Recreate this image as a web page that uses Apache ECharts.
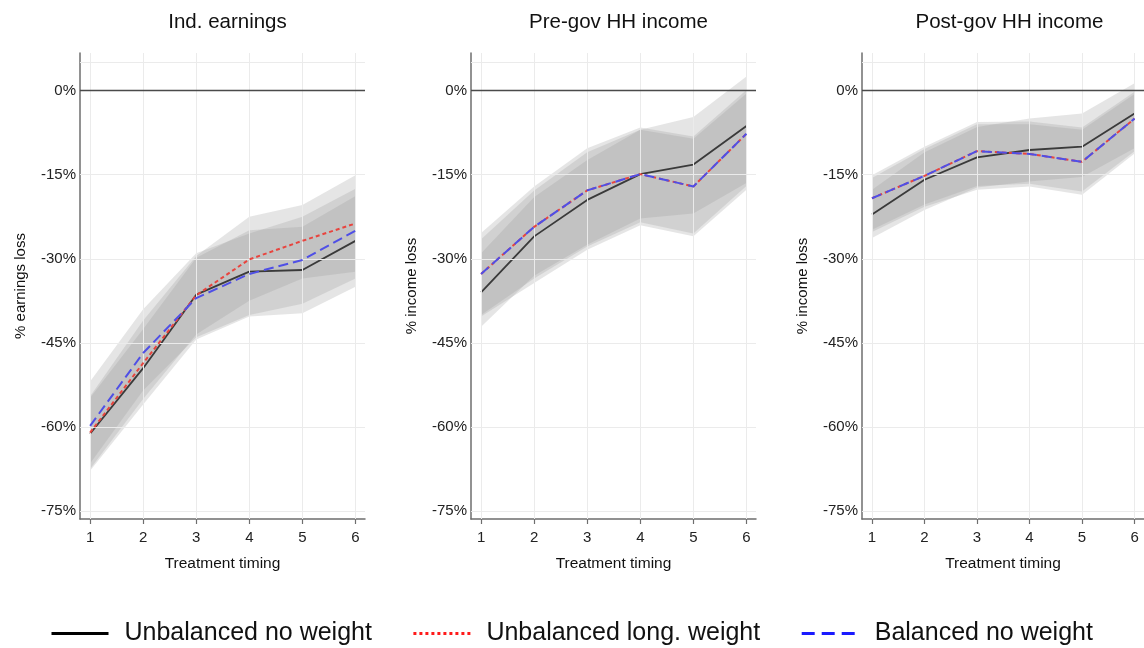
<!DOCTYPE html>
<html>
<head>
<meta charset="utf-8">
<script src="https://cdn.jsdelivr.net/npm/echarts@6/dist/echarts.min.js"></script>
<style>
  html, body { margin: 0; padding: 0; background: #fff; }
  #chart { width: 1144px; height: 648px; }
</style>
</head>
<body>
<div id="chart"></div>
<script>
// Treatment timing (x axis) and axis tick labels
const timing = [1, 2, 3, 4, 5, 6];
const yTicks = [0, -15, -30, -45, -60, -75];
const yGridExtra = [5];

const panelTitles = ['Ind. earnings', 'Pre-gov HH income', 'Post-gov HH income'];
const panelYNames = ['% earnings loss', '% income loss', '% income loss'];
const seriesNames = ['Unbalanced no weight', 'Unbalanced long. weight', 'Balanced no weight'];

// Ind. earnings: point estimates and confidence bands (% change)
const earnUnbal = [-61.2, -49.5, -36.4, -32.3, -32.0, -26.8];
const earnUnbalLo = [-67.8, -56.0, -44.4, -40.3, -39.7, -35.0];
const earnUnbalHi = [-54.8, -42.5, -29.8, -24.9, -24.3, -18.8];
const earnLong = [-61.0, -48.6, -36.5, -30.1, -26.8, -23.7];
const earnLongLo = [-67.5, -55.0, -43.5, -37.5, -33.5, -32.3];
const earnLongHi = [-54.5, -41.0, -29.5, -22.5, -20.4, -15.1];
const earnBal = [-59.8, -46.8, -37.0, -32.7, -30.2, -25.0];
const earnBalLo = [-66.5, -53.5, -44.0, -40.0, -38.0, -33.5];
const earnBalHi = [-51.9, -39.0, -29.0, -25.5, -22.5, -17.5];

// Pre-gov HH income
const preUnbal = [-36.0, -26.0, -19.5, -14.9, -13.2, -6.3];
const preUnbalLo = [-42.1, -33.0, -27.5, -22.8, -21.9, -16.5];
const preUnbalHi = [-29.0, -19.0, -12.4, -7.0, -4.7, 2.5];
const preLong = [-32.7, -24.3, -17.8, -14.9, -17.1, -7.7];
const preLongLo = [-40.3, -34.3, -28.4, -24.0, -26.0, -17.7];
const preLongHi = [-25.4, -17.1, -10.3, -6.6, -8.2, 0.1];
const preBal = [-32.7, -24.3, -17.8, -14.9, -17.1, -7.7];
const preBalLo = [-40.0, -33.5, -27.8, -23.5, -25.5, -17.0];
const preBalHi = [-26.5, -17.8, -11.0, -7.0, -8.6, -0.5];

// Post-gov HH income
const postUnbal = [-22.1, -15.9, -11.9, -10.6, -10.0, -4.1];
const postUnbalLo = [-26.3, -21.3, -17.3, -16.2, -15.4, -10.3];
const postUnbalHi = [-17.7, -11.0, -6.5, -5.0, -4.1, 1.3];
const postLong = [-19.2, -15.2, -10.8, -11.3, -12.7, -5.0];
const postLongLo = [-25.2, -20.7, -17.7, -17.1, -18.6, -11.2];
const postLongHi = [-15.1, -10.0, -5.6, -5.5, -6.6, -0.2];
const postBal = [-19.2, -15.2, -10.8, -11.3, -12.7, -5.0];
const postBalLo = [-24.8, -20.3, -17.0, -16.6, -18.0, -10.8];
const postBalHi = [-15.6, -10.4, -6.0, -6.0, -7.0, -0.6];

const panels = [
  { est: [earnUnbal, earnLong, earnBal], lo: [earnUnbalLo, earnLongLo, earnBalLo], hi: [earnUnbalHi, earnLongHi, earnBalHi] },
  { est: [preUnbal, preLong, preBal], lo: [preUnbalLo, preLongLo, preBalLo], hi: [preUnbalHi, preLongHi, preBalHi] },
  { est: [postUnbal, postLong, postBal], lo: [postUnbalLo, postLongLo, postBalLo], hi: [postUnbalHi, postLongHi, postBalHi] }
];

const FONT = "'Liberation Sans', Arial, sans-serif";
const gridLefts = [80, 471, 862];
const GRID_TOP = 53, GRID_W = 285, GRID_H = 466;
const lineStyles = [
  { color: '#3a3a3a', width: 1.8, type: 'solid' },
  { color: '#e8443e', width: 2, type: [4, 3] },
  { color: '#4f4fe6', width: 2, type: [10, 5] }
];
const bandFill = 'rgba(150,150,150,0.25)';

const grids = [], xAxes = [], yAxes = [], titles = [], series = [];

panels.forEach((p, k) => {
  grids.push({ left: gridLefts[k], top: GRID_TOP, width: GRID_W, height: GRID_H });
  titles.push({
    text: panelTitles[k], left: gridLefts[k] + GRID_W / 2, top: 7, textAlign: 'center',
    textStyle: { fontFamily: FONT, fontSize: 20.5, fontWeight: 'normal', color: '#111' }
  });
  xAxes.push({
    type: 'value', gridIndex: k, min: 0.81, max: 6.18,
    name: 'Treatment timing', nameLocation: 'middle', nameGap: 37,
    nameTextStyle: { fontFamily: FONT, fontSize: 15.5, color: '#111' },
    axisLine: { onZero: false, lineStyle: { color: '#6e6e6e', width: 1.5 } },
    axisTick: { show: true, length: 5, customValues: timing, lineStyle: { color: '#6e6e6e', width: 1.2 } },
    axisLabel: { customValues: timing, margin: 11, fontFamily: FONT, fontSize: 15, color: '#222' },
    splitLine: { show: false }
  });
  yAxes.push({
    type: 'value', gridIndex: k, min: -76.4, max: 6.7,
    name: panelYNames[k], nameLocation: 'middle', nameGap: 52,
    nameTextStyle: { fontFamily: FONT, fontSize: 15, color: '#111' },
    axisLine: { show: true, onZero: false, lineStyle: { color: '#6e6e6e', width: 1.5 } },
    axisTick: { show: false },
    axisLabel: { customValues: yTicks, margin: 4, fontFamily: FONT, fontSize: 15, color: '#222',
                 formatter: v => v + '%' },
    splitLine: { show: false }
  });

  // light grid lines beneath everything
  series.push({
    type: 'line', xAxisIndex: k, yAxisIndex: k, z: 1, silent: true, symbol: 'none',
    data: timing.map((t, i) => [t, p.est[0][i]]),
    lineStyle: { opacity: 0 },
    markLine: {
      silent: true, symbol: 'none', label: { show: false },
      lineStyle: { color: '#ebebeb', width: 1, type: 'solid' },
      data: yTicks.concat(yGridExtra).map(v => ({ yAxis: v }))
        .concat(timing.map(v => ({ xAxis: v })))
    }
  });

  // confidence bands
  for (let s = 0; s < 3; s++) {
    const lo = p.lo[s], hi = p.hi[s];
    series.push({
      type: 'custom', xAxisIndex: k, yAxisIndex: k, z: 2, silent: true,
      data: timing.map((t, i) => [t, lo[i], hi[i]]),
      encode: { x: 0, y: [1, 2] },
      renderItem: (params, api) => {
        if (params.dataIndex !== 0) return null;
        const pts = [];
        for (let i = 0; i < timing.length; i++) pts.push(api.coord([timing[i], hi[i]]));
        for (let i = timing.length - 1; i >= 0; i--) pts.push(api.coord([timing[i], lo[i]]));
        return { type: 'polygon', shape: { points: pts }, style: { fill: bandFill } };
      }
    });
  }

  // zero reference line
  series.push({
    type: 'line', xAxisIndex: k, yAxisIndex: k, z: 3, silent: true, symbol: 'none',
    data: timing.map((t, i) => [t, p.est[0][i]]),
    lineStyle: { opacity: 0 },
    markLine: {
      silent: true, symbol: 'none', label: { show: false },
      lineStyle: { color: '#4a4a4a', width: 1.4, type: 'solid' },
      data: [{ yAxis: 0 }]
    }
  });

  // point estimate lines
  for (let s = 0; s < 3; s++) {
    series.push({
      name: seriesNames[s], type: 'line', xAxisIndex: k, yAxisIndex: k, z: 4 + s,
      symbol: 'none', silent: true,
      data: timing.map((t, i) => [t, p.est[s][i]]),
      lineStyle: lineStyles[s],
      itemStyle: { color: lineStyles[s].color }
    });
  }
});

const hiddenMarker = { opacity: 0 };
const chart = echarts.init(document.getElementById('chart'));
chart.setOption({
  animation: false,
  backgroundColor: '#fff',
  title: titles,
  grid: grids,
  xAxis: xAxes,
  yAxis: yAxes,
  legend: {
    left: 50, top: 621, padding: 0, itemWidth: 57, itemHeight: 28, itemGap: 40,
    selectedMode: false,
    textStyle: { fontFamily: FONT, fontSize: 25, color: '#111', padding: [0, 0, 0, 11] },
    data: [
      { name: seriesNames[0], itemStyle: hiddenMarker, lineStyle: { color: '#000', width: 3, type: 'solid' } },
      { name: seriesNames[1], itemStyle: hiddenMarker, lineStyle: { color: '#ff1a1a', width: 3, type: [3, 3] } },
      { name: seriesNames[2], itemStyle: hiddenMarker, lineStyle: { color: '#1a1aff', width: 3, type: [13, 7] } }
    ]
  },
  series: series
});
</script>
</body>
</html>
